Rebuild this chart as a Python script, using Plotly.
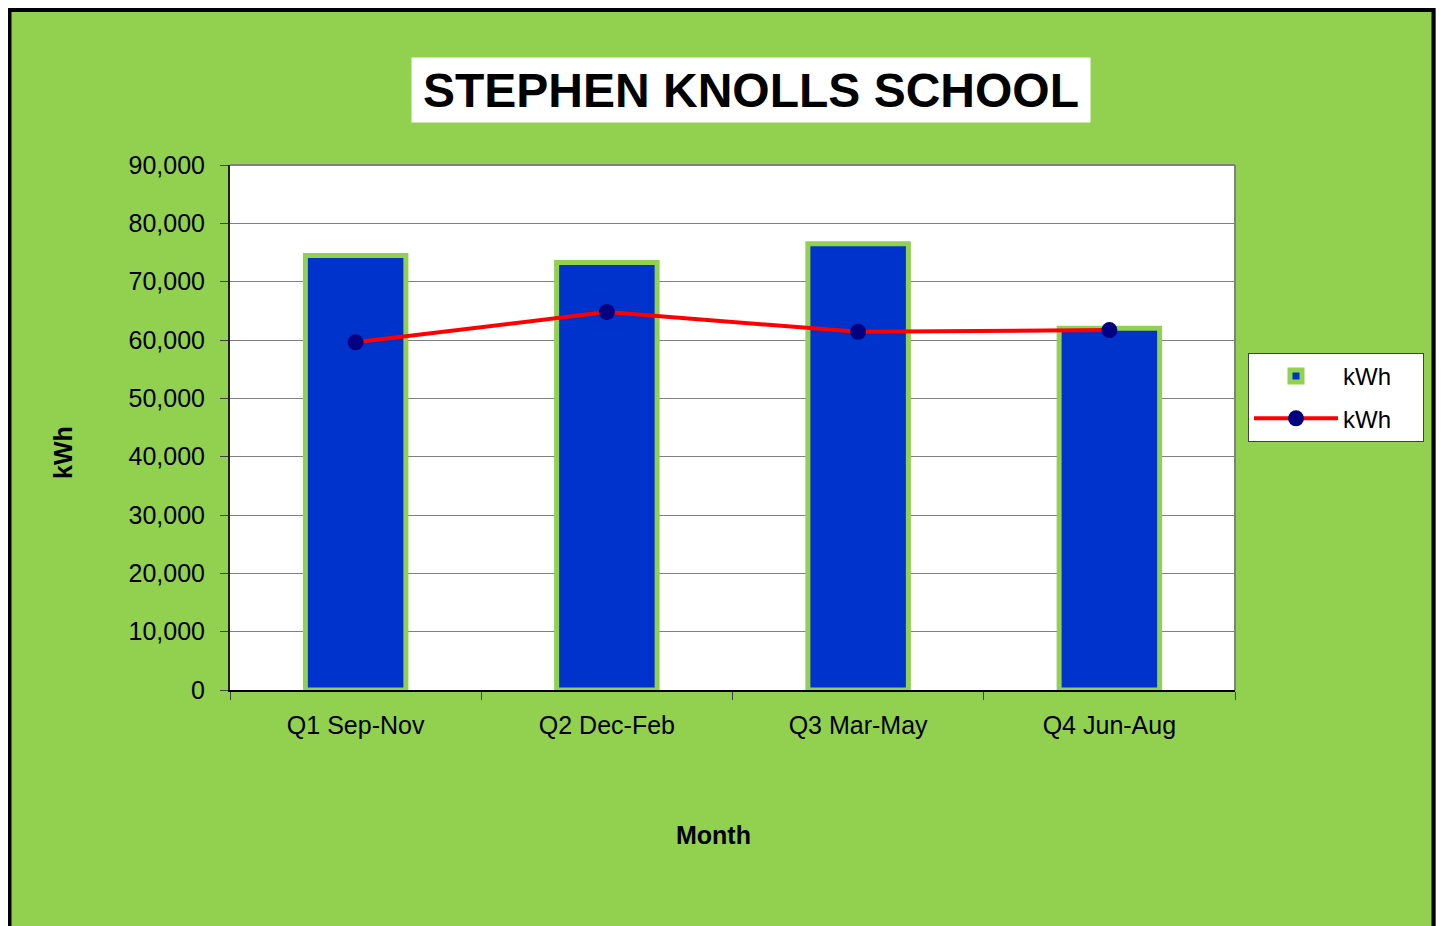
import plotly.graph_objects as go

categories = ["Q1 Sep-Nov", "Q2 Dec-Feb", "Q3 Mar-May", "Q4 Jun-Aug"]
bar_values = [74500, 73300, 76500, 62000]
line_values = [59600, 64800, 61400, 61700]
y_ticks = [0, 10000, 20000, 30000, 40000, 50000, 60000, 70000, 80000, 90000]
y_tick_labels = ["0", "10,000", "20,000", "30,000", "40,000", "50,000", "60,000", "70,000", "80,000", "90,000"]
series_name = "kWh"

OFF = 8  # page body margin
W, H = 1444 - OFF, 926 - OFF
L, R, T, B = 230 - OFF, 1235 - OFF, 165 - OFF, 690 - OFF

def px(x):  # screen x -> paper
    return (x - OFF - L) / (R - L)

def py(y):  # screen y -> paper
    return (B - (y - OFF)) / (B - T)

GREEN = "#92D050"
SANS = "Liberation Sans, Arial"
PAD = "&nbsp;" * 4

fig = go.Figure()
fig.add_trace(go.Bar(
    x=categories, y=bar_values, name=series_name + PAD, width=0.40, legendgroup="a",
    marker=dict(color="#0033CC", line=dict(color=GREEN, width=5)),
))
fig.add_trace(go.Scatter(
    x=categories, y=line_values, name=series_name + PAD, mode="lines+markers", legendgroup="b",
    line=dict(color="#FF0000", width=4),
    marker=dict(color="#000080", size=16),
))

shapes = [
    dict(type="rect", xref="paper", yref="paper", x0=px(9.5), x1=px(1433.5), y0=-1, y1=py(10),
         line=dict(color="black", width=4), layer="above"),
    dict(type="line", xref="paper", yref="paper", x0=0, x1=1, y0=1, y1=1,
         line=dict(color="#808080", width=2), layer="above"),
    dict(type="line", xref="paper", yref="paper", x0=1, x1=1, y0=0, y1=1,
         line=dict(color="#808080", width=2), layer="above"),
]

annotations = [
    dict(text="<b>STEPHEN KNOLLS SCHOOL</b>", xref="paper", yref="paper",
         x=px(751), y=py(90), xanchor="center", yanchor="middle", showarrow=False,
         font=dict(family=SANS, size=48, color="black"), bgcolor="white",
         width=678, height=64, borderpad=0),
    dict(text="<b>kWh</b>", xref="paper", yref="paper", x=px(63), y=py(453),
         xanchor="center", yanchor="middle", showarrow=False, textangle=-90,
         font=dict(family=SANS, size=25, color="black")),
    dict(text="<b>Month</b>", xref="paper", yref="paper", x=px(713), y=py(835),
         xanchor="center", yanchor="middle", showarrow=False,
         font=dict(family=SANS, size=25, color="black")),
]

fig.update_layout(
    width=W, height=H,
    margin=dict(l=L, r=W - R, t=T, b=H - B, pad=0, autoexpand=False),
    paper_bgcolor=GREEN, plot_bgcolor="white",
    shapes=shapes, annotations=annotations,
    showlegend=True,
    legend=dict(x=px(1248), y=py(353), xanchor="left", yanchor="top",
                bgcolor="white", bordercolor="#404040", borderwidth=1,
                itemwidth=84, tracegroupgap=8,
                font=dict(family=SANS, size=24, color="black")),
    xaxis=dict(type="category", showline=True, linecolor="black", linewidth=2,
               ticks="outside", tickson="boundaries", ticklen=8, tickcolor="#404040",
               tickfont=dict(family=SANS, size=25, color="black"),
               showgrid=False, ticklabelstandoff=12, automargin=False),
    yaxis=dict(range=[0, 90000], tickvals=y_ticks, ticktext=y_tick_labels,
               showline=True, linecolor="#202020", linewidth=2,
               ticks="outside", ticklen=8, tickcolor="#404040",
               tickfont=dict(family=SANS, size=25, color="black"),
               showgrid=True, gridcolor="#808080", gridwidth=1,
               zeroline=False, ticklabelstandoff=10, automargin=False),
)

fig.write_html("out.html")
